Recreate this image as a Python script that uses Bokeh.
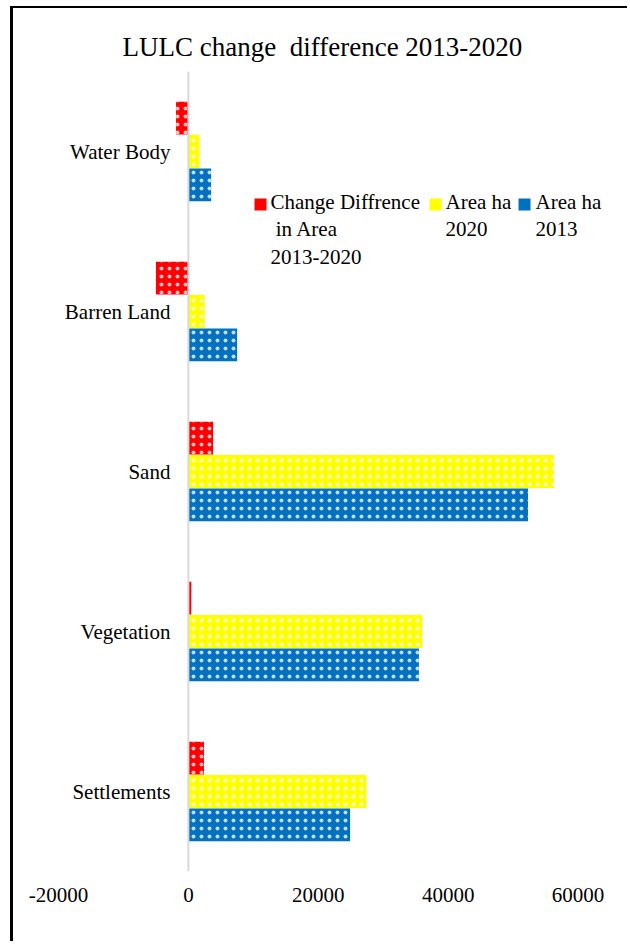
from bokeh.plotting import figure
from bokeh.models import (ColumnDataSource, FactorRange, Span, FixedTicker, Label,
                          BoxAnnotation)
from bokeh.transform import dodge
from bokeh.core.properties import value
from bokeh.embed import file_html
from bokeh.resources import INLINE

categories = ["Water Body", "Barren Land", "Sand", "Vegetation", "Settlements"]
area_2013 = [3500, 7500, 52300, 35500, 24900]
area_2020 = [1700, 2500, 56300, 36000, 27400]
change = [-1900, -5000, 3800, 450, 2400]
x_ticks = [-20000, 0, 20000, 40000, 60000]
series_labels = ["Change Diffrence\n\u00a0in Area\n2013-2020", "Area ha\n2020", "Area ha\n2013"]
series_colors = ["#FF0000", "#FFFF00", "#0070C0"]

FONT = "Liberation Serif"

src = ColumnDataSource(dict(cat=categories, a13=area_2013, a20=area_2020, ch=change,
                            zero=[0] * len(categories)))

p = figure(width=617, height=935, output_backend="svg", toolbar_location=None,
           x_range=(-20000, 65000), y_range=FactorRange(factors=categories[::-1]),
           min_border_left=45, min_border_right=20, min_border_top=63, min_border_bottom=72,
           title="LULC change \u00a0difference 2013-2020")
p.styles = {"margin-left": "10px", "margin-top": "6px",
            "border-left": "3px solid black", "border-top": "2px solid black"}

p.title.align = "left"
p.title.offset = 64
p.title.text_font = FONT
p.title.text_font_size = "27px"
p.title.text_font_style = "normal"
p.title.text_color = "black"
p.title.standoff = 20

p.outline_line_color = None
p.xgrid.visible = False
p.ygrid.visible = False
p.yaxis.visible = False

ax = p.xaxis[0]
ax.ticker = FixedTicker(ticks=x_ticks)
ax.major_label_overrides = {t: str(t) for t in x_ticks}
ax.axis_line_color = None
ax.major_tick_line_color = None
ax.minor_tick_line_color = None
ax.major_label_text_font = FONT
ax.major_label_text_font_size = "21px"
ax.major_label_text_color = "black"
ax.major_label_standoff = 10

p.add_layout(Span(location=0, dimension="height", line_color="#D9D9D9", line_width=2))

h = 0.205
off = 0.208
common = dict(height=h, left=0, source=src, line_color=None,
              hatch_pattern=".", hatch_color="white", hatch_scale=8,
              hatch_weight=0.5, hatch_alpha=0.75)
p.hbar(y=dodge("cat", off, range=p.y_range), right="ch", fill_color=series_colors[0], **common)
p.hbar(y=dodge("cat", 0, range=p.y_range), right="a20", fill_color=series_colors[1], **common)
p.hbar(y=dodge("cat", -off, range=p.y_range), right="a13", fill_color=series_colors[2], **common)

p.text(x="zero", y="cat", text="cat", source=src, x_offset=-18, text_align="right",
       text_baseline="middle", text_font=value(FONT), text_font_size="21px", text_color="black")

# legend (screen units, relative to plot frame bottom-left)
glyph_x = [196, 371, 460]
text_x = [212, 387, 477]
for gx, tx, lab, col in zip(glyph_x, text_x, series_labels, series_colors):
    p.add_layout(BoxAnnotation(left=gx, right=gx + 12, top=673, bottom=661,
                               left_units="screen", right_units="screen",
                               top_units="screen", bottom_units="screen",
                               fill_color=col, fill_alpha=1, line_color=None))
    p.add_layout(Label(x=tx, y=682, x_units="screen", y_units="screen", text=lab,
                       text_font=FONT, text_font_size="21px", text_color="black",
                       text_baseline="top", text_align="left", text_line_height=1.15))

open("out.html", "w").write(file_html(p, INLINE))
